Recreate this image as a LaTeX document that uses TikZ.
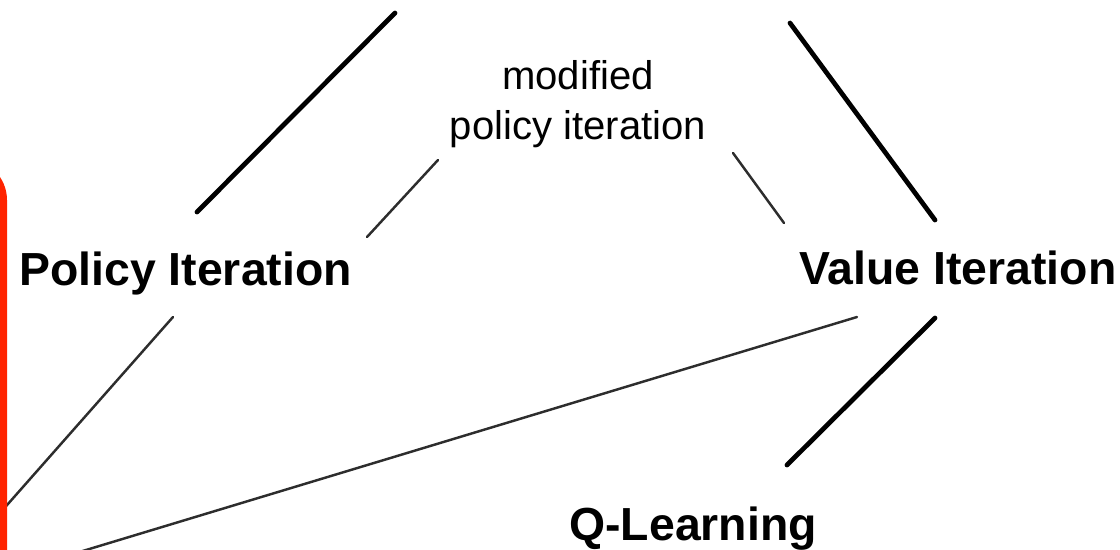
\documentclass[tikz,border=0pt]{standalone}
\usepackage{fontspec}
\setmainfont{Liberation Sans}
\usetikzlibrary{positioning}
\definecolor{framered}{RGB}{255,36,0}
\definecolor{linkgray}{RGB}{45,45,45}

\begin{document}
\begin{tikzpicture}[
    x=0.02cm, y=-0.02cm,
    method/.style={
        inner sep=0pt,
        anchor=base west,
        font=\fontsize{26.4}{31}\selectfont\bfseries
    },
    variant/.style={
        inner sep=0pt,
        align=center,
        font=\fontsize{22.8}{28.4}\selectfont
    },
    strong/.style={line width=2.7pt, line cap=round},
    weak/.style={line width=1.4pt, line cap=round, draw=linkgray}
]
\useasboundingbox (0,0) rectangle (1120,549);
\clip (0,0) rectangle (1120,549);

% Methods
\node[method] (pi) at (19,285) {Policy Iteration};
\node[method] (vi) at (799,284) {Value Iteration};
\node[method] (ql) at (569,540) {Q-Learning};
\node[variant, anchor=north] (mpi) at (578,60) {modified\\policy iteration};

% Line ends
\coordinate (pi-up) at (197,212);
\coordinate (pi-down) at (173,317);
\coordinate (vi-up) at (935,220);
\coordinate (vi-left) at (857,317);
\coordinate (vi-down) at (935,318);
\coordinate (ql-up) at (787,465);
\coordinate (mpi-left) at (438,160);
\coordinate (mpi-right) at (733,153);
\coordinate (pi-mpi) at (367,237);
\coordinate (vi-mpi) at (784,223);
\coordinate (above-left) at (395,13);
\coordinate (above-right) at (790,23);
\coordinate (below-a) at (0,513);
\coordinate (below-b) at (0,576);

% Links
\draw[strong] (pi-up) -- (above-left);
\draw[strong] (vi-up) -- (above-right);
\draw[strong] (vi-down) -- (ql-up);
\draw[weak] (pi-mpi) -- (mpi-left);
\draw[weak] (vi-mpi) -- (mpi-right);
\draw[weak] (pi-down) -- (below-a);
\draw[weak] (vi-left) -- (below-b);

% Red frame edge
\fill[framered, rounded corners=0.82cm] (-200,159) rectangle (7,700);

\end{tikzpicture}
\end{document}
